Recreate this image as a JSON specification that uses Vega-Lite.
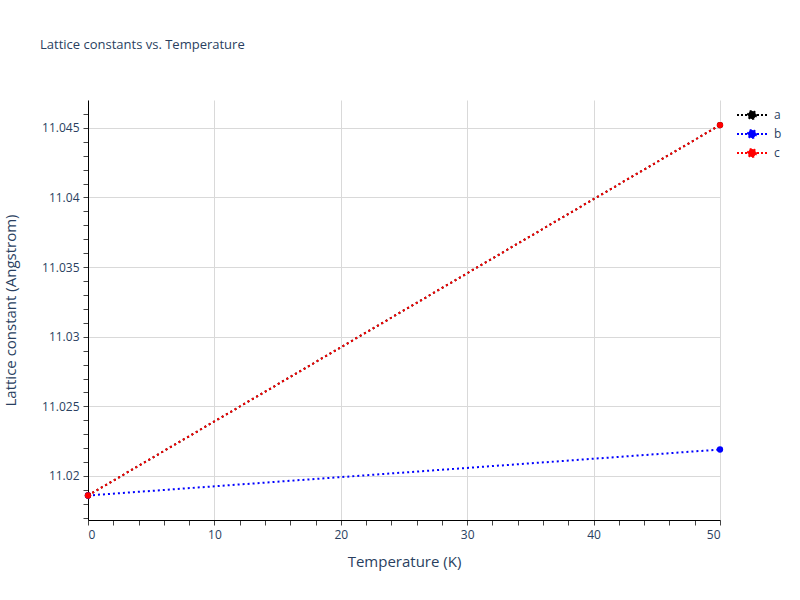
{
  "$schema": "https://vega.github.io/schema/vega-lite/v6.json",
  "width": 632,
  "height": 420,
  "autosize": {"type": "none"},
  "padding": {"left": 88, "top": 100, "right": 80, "bottom": 80},
  "background": "white",
  "title": {
    "text": "Lattice constants vs. Temperature",
    "anchor": "start",
    "frame": "group",
    "dx": -48,
    "offset": 48,
    "fontSize": 13,
    "fontWeight": "normal",
    "font": "Open Sans",
    "color": "#2a3f5f"
  },
  "data": {
    "values": [
      {"series": "a", "temperature": 0, "lattice": 11.0186},
      {"series": "a", "temperature": 50, "lattice": 11.0452},
      {"series": "b", "temperature": 0, "lattice": 11.0186},
      {"series": "b", "temperature": 50, "lattice": 11.0219},
      {"series": "c", "temperature": 0, "lattice": 11.0186},
      {"series": "c", "temperature": 50, "lattice": 11.0452}
    ]
  },
  "encoding": {
    "x": {
      "field": "temperature",
      "type": "quantitative",
      "scale": {"domain": [0, 50], "nice": false, "zero": false},
      "axis": {
        "title": "Temperature (K)",
        "values": [0, 2, 4, 6, 8, 10, 12, 14, 16, 18, 20, 22, 24, 26, 28, 30, 32, 34, 36, 38, 40, 42, 44, 46, 48, 50],
        "labelExpr": "datum.value % 10 === 0 ? datum.label : ''",
        "gridOpacity": {"condition": {"test": "datum.value % 10 === 0", "value": 1}, "value": 0},
        "gridColor": "#d9d9d9",
        "tickSize": 5,
        "tickColor": "#444",
        "domainColor": "black",
        "labelPadding": 4,
        "titlePadding": 14
      }
    },
    "y": {
      "field": "lattice",
      "type": "quantitative",
      "scale": {"domain": [11.01684, 11.047], "nice": false, "zero": false},
      "axis": {
        "title": "Lattice constant (Angstrom)",
        "values": [11.017, 11.018, 11.019, 11.02, 11.021, 11.022, 11.023, 11.024, 11.025, 11.026, 11.027, 11.028, 11.029, 11.03, 11.031, 11.032, 11.033, 11.034, 11.035, 11.036, 11.037, 11.038, 11.039, 11.04, 11.041, 11.042, 11.043, 11.044, 11.045, 11.046],
        "format": ".3~f",
        "labelExpr": "round(datum.value * 1000) % 5 === 0 ? datum.label : ''",
        "gridOpacity": {"condition": {"test": "round(datum.value * 1000) % 5 === 0", "value": 1}, "value": 0},
        "gridColor": "#d9d9d9",
        "tickSize": 5,
        "tickColor": "#444",
        "domainColor": "black",
        "labelPadding": 4,
        "titlePadding": 23
      }
    },
    "color": {
      "field": "series",
      "type": "nominal",
      "scale": {"domain": ["a", "b", "c"], "range": ["black", "blue", "red"]},
      "legend": {
        "title": null,
        "orient": "right",
        "offset": 13,
        "padding": 9,
        "symbolType": "M-3,0 L3,0 M0.8,0 A0.8,0.8 0 1,1 -0.8,0 A0.8,0.8 0 1,1 0.8,0 Z",
        "symbolSize": 100,
        "symbolStrokeWidth": 2,
        "symbolDash": [2, 2],
        "labelOffset": 16,
        "labelFontSize": 12,
        "labelColor": "#2a3f5f",
        "labelFont": "Open Sans",
        "rowPadding": 3,
        "encode": {
          "symbols": {
            "update": {
              "fill": {"scale": "color", "field": "value"},
              "stroke": {"scale": "color", "field": "value"},
              "opacity": {"value": 1}
            }
          }
        }
      }
    }
  },
  "layer": [
    {
      "mark": {"type": "line", "strokeWidth": 2, "strokeDash": [2, 3]}
    },
    {
      "mark": {"type": "point", "filled": true, "size": 40, "opacity": 1}
    }
  ],
  "config": {
    "view": {"stroke": null},
    "font": "Open Sans",
    "axis": {
      "labelFont": "Open Sans",
      "labelFontSize": 12,
      "labelColor": "#2a3f5f",
      "titleFont": "Open Sans",
      "titleFontSize": 15,
      "titleFontWeight": "normal",
      "titleColor": "#2a3f5f"
    }
  }
}
